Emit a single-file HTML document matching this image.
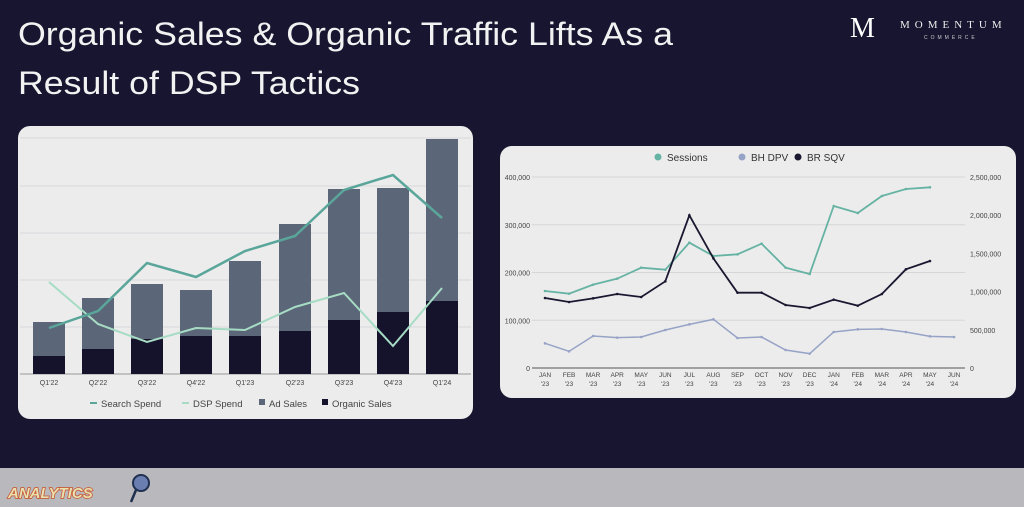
<!DOCTYPE html>
<html><head><meta charset="utf-8"><style>
html,body{margin:0;padding:0;background:#16142e;}
svg{display:block;font-family:"Liberation Sans",sans-serif;}
</style></head><body>
<svg id="s" width="1024" height="507" viewBox="0 0 1024 507" xmlns="http://www.w3.org/2000/svg">
<rect width="1024" height="507" fill="#17152f"/>
<text x="18" y="45" font-size="32" fill="#f2f2f2" textLength="655" lengthAdjust="spacingAndGlyphs">Organic Sales &amp; Organic Traffic Lifts As a</text>
<text x="18" y="94" font-size="32" fill="#f2f2f2" textLength="342" lengthAdjust="spacingAndGlyphs">Result of DSP Tactics</text>
<text x="850" y="37" font-size="28" font-family="Liberation Serif,serif" fill="#fff">M</text>
<text x="900" y="28" font-size="11" font-family="Liberation Serif,serif" fill="#eee" letter-spacing="5">MOMENTUM</text>
<text x="924" y="39" font-size="5" fill="#ccc" letter-spacing="3">COMMERCE</text>
<rect x="18" y="126" width="455" height="293" rx="12" fill="#ececed"/>
<g id="L"></g>
<rect x="500" y="146" width="516" height="252" rx="12" fill="#ececed"/>
<g id="R"></g>
<rect x="0" y="468" width="1024" height="39" fill="#b9b8bd"/>
<text x="8" y="498" font-size="15" font-weight="bold" fill="#e8e0b0" stroke="#c8502a" stroke-width="1.5" paint-order="stroke" font-style="italic">ANALYTICS</text>
<circle cx="141" cy="483" r="8" fill="#6a7fb0" stroke="#203050" stroke-width="2"/>
<line x1="136" y1="490" x2="131" y2="502" stroke="#203050" stroke-width="2.5"/>
</svg>
<script>
(function(){
var NS="http://www.w3.org/2000/svg";
function el(p,t,a,txt){var e=document.createElementNS(NS,t);for(var k in a)e.setAttribute(k,a[k]);if(txt!==undefined)e.textContent=txt;p.appendChild(e);return e;}
var L=document.getElementById('L');
[138,186,233,280,327].forEach(function(y){el(L,'line',{x1:20,x2:471,y1:y,y2:y,stroke:'#d8d8da','stroke-width':1});});
el(L,'line',{x1:20,x2:471,y1:374,y2:374,stroke:'#999','stroke-width':1});
var cx=[49,98,147,196,245,295,344,393,442];
var barTop=[322,298,284,290,261,224,189,188,139];
var orgTop=[356,349,339,336,336,331,320,312,301];
var lab=["Q1'22","Q2'22","Q3'22","Q4'22","Q1'23","Q2'23","Q3'23","Q4'23","Q1'24"];
cx.forEach(function(x,i){
 el(L,'rect',{x:x-16,y:barTop[i],width:32,height:374-barTop[i],fill:'#5c6679'});
 el(L,'rect',{x:x-16,y:orgTop[i],width:32,height:374-orgTop[i],fill:'#15122c'});
 el(L,'text',{x:x,y:385,'font-size':7,'text-anchor':'middle',fill:'#444'},lab[i]);
});
var ss=[328,311,263,277,251,236,190,175,218];
var dsp=[282,324,342,328,330,307,293,346,288];
el(L,'polyline',{points:cx.map(function(x,i){return x+','+dsp[i];}).join(' '),fill:'none',stroke:'#a6dcc4','stroke-width':2});
el(L,'polyline',{points:cx.map(function(x,i){return x+','+ss[i];}).join(' '),fill:'none',stroke:'#5aa69a','stroke-width':2.5});
el(L,'rect',{x:90,y:402,width:7,height:2,fill:'#5aa69a'});
el(L,'text',{x:101,y:407,'font-size':9.5,fill:'#444'},'Search Spend');
el(L,'rect',{x:182,y:402,width:7,height:2,fill:'#a6dcc4'});
el(L,'text',{x:193,y:407,'font-size':9.5,fill:'#444'},'DSP Spend');
el(L,'rect',{x:259,y:399,width:6,height:6,fill:'#5c6679'});
el(L,'text',{x:269,y:407,'font-size':9.5,fill:'#444'},'Ad Sales');
el(L,'rect',{x:322,y:399,width:6,height:6,fill:'#15122c'});
el(L,'text',{x:332,y:407,'font-size':9.5,fill:'#444'},'Organic Sales');

var R=document.getElementById('R');
var y0=368, k=(368-177)/400;
[0,100,200,300,400].forEach(function(v){var y=y0-v*k;
 if(v>0) el(R,'line',{x1:532,x2:965,y1:y,y2:y,stroke:'#d6d6d8'});
 el(R,'text',{x:530,y:y+3,'font-size':7,'text-anchor':'end',fill:'#444'},v?v+',000':'0');});
el(R,'line',{x1:532,x2:965,y1:y0,y2:y0,stroke:'#555'});
['0','500,000','1,000,000','1,500,000','2,000,000','2,500,000'].forEach(function(t,i){
 el(R,'text',{x:970,y:y0-i*(191/5)+3,'font-size':7,fill:'#444'},t);});
function mx(i){return 545+i*24.06;}
var mon=['JAN','FEB','MAR','APR','MAY','JUN','JUL','AUG','SEP','OCT','NOV','DEC','JAN','FEB','MAR','APR','MAY','JUN'];
mon.forEach(function(m,i){el(R,'text',{x:mx(i),y:377,'font-size':6.5,'text-anchor':'middle',fill:'#444'},m);
 el(R,'text',{x:mx(i),y:386,'font-size':6.5,'text-anchor':'middle',fill:'#444'},i<12?"'23":"'24");});
function ser(arr,col,w){var pts=arr.map(function(v,i){return mx(i)+','+(v/3+145);});
 el(R,'polyline',{points:pts.join(' '),fill:'none',stroke:col,'stroke-width':w});
 arr.forEach(function(v,i){el(R,'circle',{cx:mx(i),cy:v/3+145,r:1.3,fill:col});});}
ser([595,619,573,578,576,555,538,523,579,576,615,626,561,553,552,561,574,576],'#97a3c6',1.5);
ser([438,446,419,401,368,374,293,333,328,296,368,387,183,204,153,132,127],'#66b3a4',1.8);
ser([459,471,460,447,456,409,211,340,443,443,480,489,464,482,447,373,348],'#1a1830',1.8);
el(R,'circle',{cx:658,cy:157,r:3.5,fill:'#66b3a4'});
el(R,'text',{x:667,y:161,'font-size':10,fill:'#333'},'Sessions');
el(R,'circle',{cx:742,cy:157,r:3.5,fill:'#97a3c6'});
el(R,'text',{x:751,y:161,'font-size':10,fill:'#333'},'BH DPV');
el(R,'circle',{cx:798,cy:157,r:3.5,fill:'#1a1830'});
el(R,'text',{x:807,y:161,'font-size':10,fill:'#333'},'BR SQV');
})();
</script>
</body></html>
